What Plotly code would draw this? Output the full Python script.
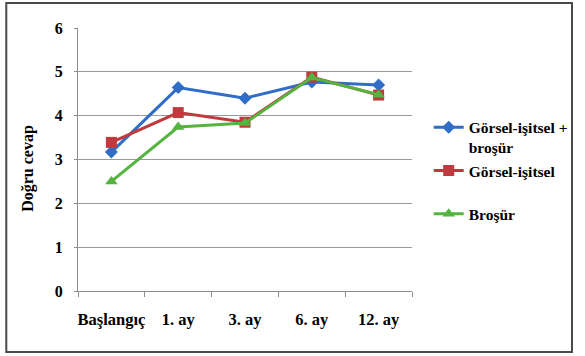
import plotly.graph_objects as go

# Survey results: mean correct answers per group over follow-up time
categories = ["Başlangıç", "1. ay", "3. ay", "6. ay", "12. ay"]
gorsel_isitsel_brosur = [3.17, 4.64, 4.40, 4.77, 4.70]
gorsel_isitsel = [3.39, 4.07, 3.85, 4.88, 4.47]
brosur = [2.50, 3.74, 3.83, 4.87, 4.48]

series_names = ["Görsel-işitsel +<br>broşür", "Görsel-işitsel<br> ", "Broşür"]
y_ticks = [0, 1, 2, 3, 4, 5, 6]
y_title = "Doğru cevap"

FONT = "Liberation Serif"
BLUE = "#2F6DC6"
RED = "#BF3A3C"
GREEN = "#55B43F"

fig = go.Figure()
styles = [
    (gorsel_isitsel_brosur, BLUE, "diamond", 10),
    (gorsel_isitsel, RED, "square", 11),
    (brosur, GREEN, "triangle-up", 11),
]
for name, (vals, color, symbol, size) in zip(series_names, styles):
    fig.add_trace(go.Scatter(
        x=categories, y=vals, name="<b>" + name.replace("<br>", "</b><br><b>") + "</b>",
        mode="lines+markers",
        line=dict(color=color, width=3),
        marker=dict(symbol=symbol, size=size, color=color),
    ))


def txt(size):
    return dict(family=FONT, size=size, color="black")


fig.update_layout(
    width=585, height=356,
    margin=dict(l=78, r=167, t=28, b=65),
    paper_bgcolor="white", plot_bgcolor="white",
    font=txt(15),
    showlegend=True,
    legend=dict(
        x=1.05, y=0.686, xanchor="left", yanchor="top",
        font=txt(15.5), valign="top", itemwidth=30, tracegroupgap=2,
        bgcolor="rgba(0,0,0,0)",
    ),
    xaxis=dict(
        type="category", range=[-0.5, 4.5], automargin=False, tickangle=0,
        tickvals=categories, ticktext=["<b>%s</b>" % c for c in categories],
        showline=True, linecolor="#8c8c8c", linewidth=1,
        ticks="outside", tickson="boundaries", ticklen=5, tickcolor="#8c8c8c",
        showgrid=False, ticklabelstandoff=13, tickfont=txt(16.5),
    ),
    yaxis=dict(
        range=[0, 6], tickvals=y_ticks, ticktext=["<b>%d</b>" % v for v in y_ticks],
        automargin=False,
        showline=True, linecolor="#8c8c8c", linewidth=1,
        ticks="outside", ticklen=3, tickcolor="#8c8c8c",
        showgrid=True, gridcolor="#9a9a9a", gridwidth=1,
        zeroline=False, ticklabelstandoff=8, tickfont=txt(16),
    ),
    annotations=[dict(
        text="<b>%s</b>" % y_title, textangle=-90,
        xref="paper", yref="paper", x=-0.15, y=0.468,
        xanchor="center", yanchor="middle", showarrow=False, font=txt(16),
    )],
    shapes=[dict(
        type="rect", xref="paper", yref="paper",
        x0=-0.2147, x1=1.479, y0=-0.232, y1=1.095,
        line=dict(color="#4a4a4a", width=2), layer="below",
    )],
)

fig.write_html("out.html")
